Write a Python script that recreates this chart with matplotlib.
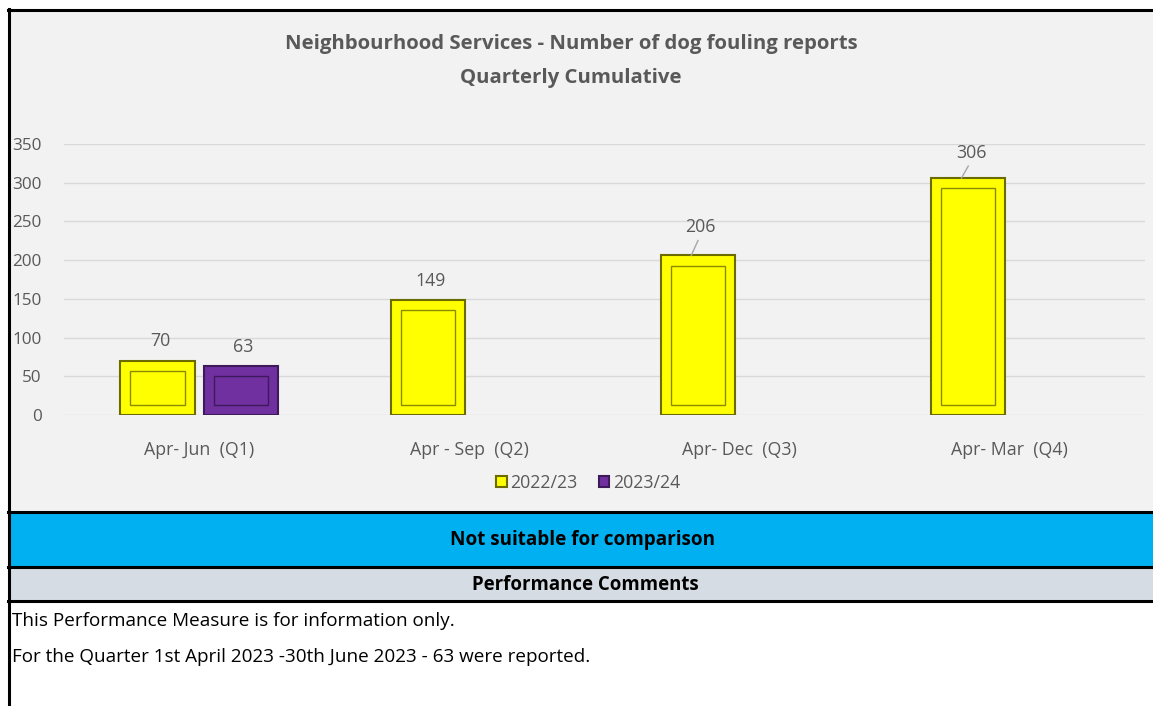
import matplotlib
matplotlib.use("Agg")
import matplotlib.pyplot as plt
from matplotlib.patches import Rectangle
from matplotlib.lines import Line2D
import numpy as np

categories = ["Apr- Jun  (Q1)", "Apr - Sep  (Q2)", "Apr- Dec  (Q3)", "Apr- Mar  (Q4)"]
series_names = ["2022/23", "2023/24"]
values_2022 = [70, 149, 206, 306]
values_2023 = [63, None, None, None]
yticks = [0, 50, 100, 150, 200, 250, 300, 350]

W, H = 1153, 706
fig = plt.figure(figsize=(W / 100, H / 100), dpi=100)
fig.patch.set_facecolor("white")
FONT = ["Open Sans", "DejaVu Sans"]
GREY = "#595959"

def px(x0, y0, x1, y1):
    return [x0 / W, 1 - y1 / H, (x1 - x0) / W, (y1 - y0) / H]

def rect(x0, y0, x1, y1, color, z=0):
    fig.patches.append(Rectangle((x0 / W, 1 - y1 / H), (x1 - x0) / W, (y1 - y0) / H,
                                 transform=fig.transFigure, facecolor=color,
                                 edgecolor="none", zorder=z))

def hline(y, x0=8, x1=W, lw=2.0, color="black"):
    fig.lines.append(Line2D([x0 / W, x1 / W], [1 - y / H, 1 - y / H],
                            transform=fig.transFigure, color=color, lw=lw, zorder=5))

rect(8, 9, W, 512, "#F2F2F2")
rect(8, 512, W, 566, "#00B0F0")
rect(8, 566, W, 600, "#D6DCE4")
hline(9.5, lw=2.2)
hline(512, lw=2.2)
hline(566.5, lw=2.2)
hline(600.5, lw=2.2)
fig.lines.append(Line2D([8.5 / W, 8.5 / W], [0, 1 - 9 / H], transform=fig.transFigure,
                        color="black", lw=2.2, zorder=5))

fig.text(571 / W, 1 - 44 / H, "Neighbourhood Services - Number of dog fouling reports",
         ha="center", va="center", fontsize=14.7, fontweight="bold", color=GREY, family=FONT)
fig.text(571 / W, 1 - 78 / H, "Quarterly Cumulative",
         ha="center", va="center", fontsize=14.7, fontweight="bold", color=GREY, family=FONT)

fig.text(583 / W, 1 - 540 / H, "Not suitable for comparison", ha="center", va="center",
         fontsize=13.6, fontweight="bold", color="black", family=FONT)
fig.text(585 / W, 1 - 585 / H, "Performance Comments", ha="center", va="center",
         fontsize=13.4, fontweight="bold", color="black", family=FONT)
fig.text(12 / W, 1 - 621 / H, "This Performance Measure is for information only.",
         ha="left", va="center", fontsize=13.6, color="black", family=FONT)
fig.text(12 / W, 1 - 657 / H, "For the Quarter 1st April 2023 -30th June 2023 - 63 were reported.",
         ha="left", va="center", fontsize=13.6, color="black", family=FONT)

ax = fig.add_axes(px(64, 144, 1145, 415))
ax.set_facecolor("none")
ax.set_zorder(2)
ax.set_ylim(0, 350)
ax.set_xlim(-0.5, len(categories) - 0.5)
ax.set_yticks(yticks)
ax.yaxis.grid(True, color="#D9D9D9", lw=1.0)
ax.set_axisbelow(True)
for s in ax.spines.values():
    s.set_visible(False)
ax.tick_params(axis="y", length=0, colors=GREY, labelsize=12.3, pad=16)
ax.tick_params(axis="x", length=0, colors=GREY, labelsize=12.8, pad=19)
ax.set_xticks(range(len(categories)))
ax.set_xticklabels(categories)
for lab in ax.get_xticklabels() + ax.get_yticklabels():
    lab.set_family(FONT)

bw = 0.274
off = 0.154
x = np.arange(len(categories))
styles = [
    dict(face="#FFFF00", edge="#6B6B00", inner="#8A8A00", label="2022/23"),
    dict(face="#7030A0", edge="#3E1A5A", inner="#3E1A5A", label="2023/24"),
]
label_off = {0: [20, 19], 1: [19, 0], 2: [28, 0], 3: [25, 0]}
for si, vals in enumerate([values_2022, values_2023]):
    st = styles[si]
    xs = [xi + (-off if si == 0 else off) for xi, v in zip(x, vals) if v is not None]
    vs = [v for v in vals if v is not None]
    ax.bar(xs, vs, width=bw, color=st["face"], edgecolor=st["edge"], lw=1.5,
           label=st["label"], zorder=3)
    inset_y = 13.0
    inset_x = 0.037
    ax.bar(xs, [v - 2 * inset_y for v in vs], bottom=inset_y, width=bw - 2 * inset_x,
           fill=False, edgecolor=st["inner"], lw=1.0, zorder=4)
    for xi, v, ci in zip(xs, vs, [i for i, v in enumerate(vals) if v is not None]):
        o = label_off[ci][si]
        ax.annotate(str(v), (xi, v), xytext=(xi + 0.01, v + o / 0.774), textcoords="data",
                    ha="center", va="center", fontsize=12.8, color=GREY, family=FONT,
                    zorder=6)
        if o > 22:
            ax.plot([xi - 0.025, xi], [v, v + (o - 13) / 0.774], color="#A6A6A6", lw=1, zorder=5)

leg = ax.legend(loc="center", bbox_to_anchor=(588 / W, 1 - 483 / H),
                bbox_transform=fig.transFigure, ncol=2, frameon=False,
                handlelength=0.6, handleheight=0.6, handletextpad=0.2, columnspacing=1.2,
                prop={"family": FONT, "size": 12.8})
for t in leg.get_texts():
    t.set_color(GREY)

fig.savefig("out.png", dpi=100, facecolor="white")
